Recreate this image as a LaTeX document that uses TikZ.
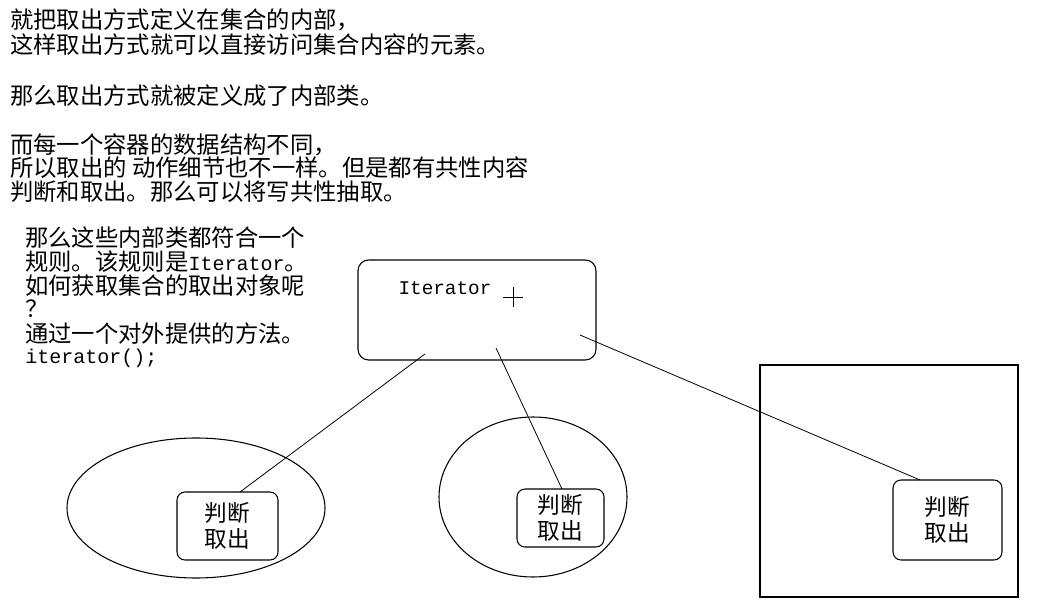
\documentclass[tikz,border=0pt]{standalone}
\usepackage{fontspec}
\newfontfamily\cjk{Noto Sans CJK SC}
\newfontfamily\mono{Liberation Mono}
\begin{document}
\begin{tikzpicture}[x=0.75pt,y=-0.75pt,
  txt/.style={anchor=west,font=\cjk\fontsize{17.5pt}{19pt}\selectfont,inner sep=0pt},
  inbox/.style={draw,rounded corners=6pt,thick,align=center,font=\cjk\fontsize{17pt}{19pt}\selectfont},
  ln/.style={draw,line width=0.6pt}]
\useasboundingbox (0,0) rectangle (1050,613);
\node[txt] (t1) at (10,20) {就把取出方式定义在集合的内部，};
\node[txt] (t2) at (10,45) {这样取出方式就可以直接访问集合内容的元素。};
\node[txt] (t3) at (10,96) {那么取出方式就被定义成了内部类。};
\node[txt] (t4) at (10,145) {而每一个容器的数据结构不同，};
\node[txt] (t5) at (10,168) {所以取出的 动作细节也不一样。但是都有共性内容};
\node[txt] (t6) at (10,192) {判断和取出。那么可以将写共性抽取。};
\node[txt] (l1) at (25,238) {那么这些内部类都符合一个};
\node[txt] (l2) at (25,262) {规则。该规则是{\mono\fontsize{15pt}{19pt}\selectfont Iterator}。};
\node[txt] (l3) at (25,286) {如何获取集合的取出对象呢};
\node[txt] (l4) at (25,309) {？};
\node[txt] (l5) at (25,334) {通过一个对外提供的方法。};
\node[txt] (l6) at (25,358) {{\mono\fontsize{15pt}{19pt}\selectfont iterator();}};
% Iterator box
\draw[thick,rounded corners=8pt] (358,260) rectangle (596,360);
\node[font=\mono\fontsize{14.5pt}{16pt}\selectfont] (it) at (445,288) {Iterator};
\draw[thin] (503,297) -- (523,297) (513,287) -- (513,307);
\coordinate (a1) at (425,354);
\coordinate (a2) at (496,348);
\coordinate (a3) at (580,335);
% containers
\draw[thick] (196,508) ellipse [x radius=129, y radius=70];
\draw[thick] (533,497) ellipse [x radius=94, y radius=80];
\draw[thick] (760,365) rectangle (1018,597);
\node[inbox,minimum width=101*0.75pt,minimum height=68*0.75pt] (b1) at (227.5,526) {判断\\取出};
\node[inbox,minimum width=87*0.75pt,minimum height=58*0.75pt] (b2) at (560.5,518) {判断\\取出};
\node[inbox,minimum width=109*0.75pt,minimum height=80*0.75pt] (b3) at (947.5,520) {判断\\取出};
\coordinate (e1) at (240,492);
\coordinate (e2) at (562,489);
\coordinate (e3) at (920,480);
\draw[ln] (a1) -- (e1);
\draw[ln] (a2) -- (e2);
\draw[ln] (a3) -- (e3);
\end{tikzpicture}
\end{document}
